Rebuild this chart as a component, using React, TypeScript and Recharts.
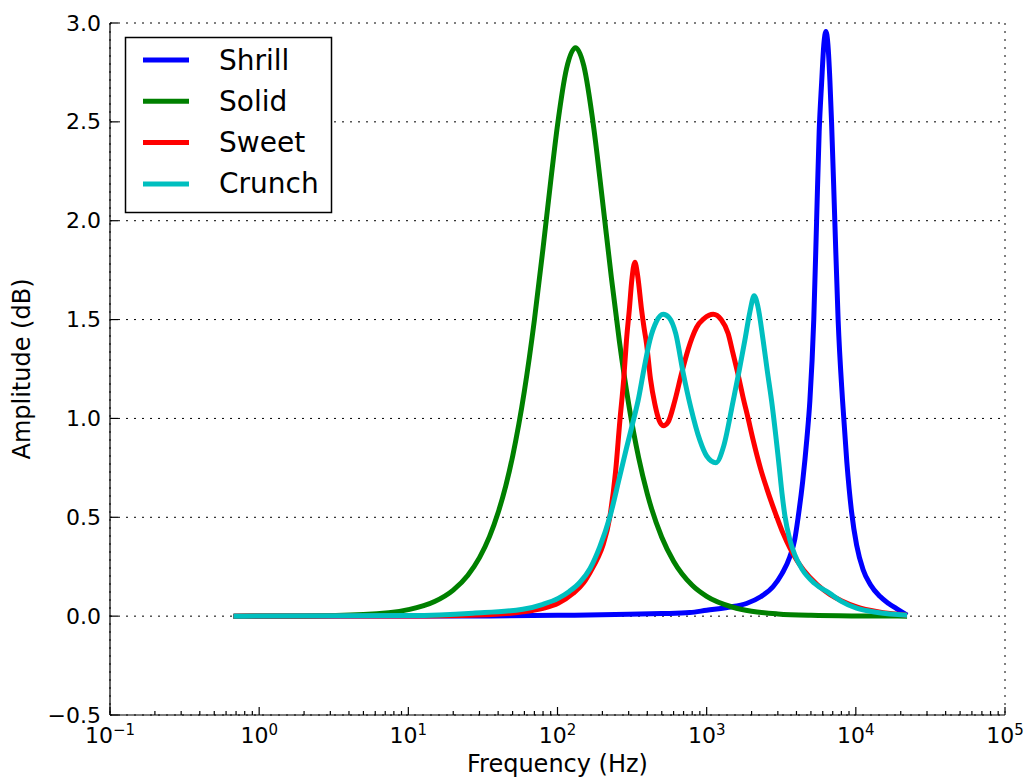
import { LineChart, Line, XAxis, YAxis, CartesianGrid } from 'recharts'

/* ─── values (frequency in Hz, amplitude in dB) ─── */
const shrillFreq = [0.673, 30, 100, 300, 500, 771, 1000, 1400, 1849, 2300, 2792, 3200, 3611, 3900, 4104, 4400, 4700, 4920, 5224, 5458, 5678, 5900, 6100, 6300, 6500, 6700, 6874, 7228, 7607, 8147, 8700, 9354, 10120, 11190, 12500, 14490, 16500, 18740, 22050]
const shrillAmp = [0, 0.001, 0.004, 0.009, 0.013, 0.018, 0.03, 0.045, 0.064, 0.098, 0.15, 0.215, 0.3, 0.39, 0.5, 0.68, 0.9, 1.09, 1.5, 2.0, 2.45, 2.7, 2.89, 2.957, 2.89, 2.71, 2.5, 2.0, 1.5, 1.09, 0.78, 0.53, 0.36, 0.235, 0.16, 0.1, 0.065, 0.038, 0.005]

const solidFreq = [0.673, 2, 5, 10, 15, 20, 25, 30, 35, 40, 45, 50, 60, 70, 80, 90, 100, 115, 132, 150, 175, 200, 230, 260, 300, 350, 400, 500, 600, 800, 1000, 1500, 2000, 3000, 5000, 10000, 22050]
const solidAmp = [0, 0.001, 0.008, 0.033, 0.074, 0.132, 0.206, 0.296, 0.402, 0.524, 0.659, 0.808, 1.139, 1.498, 1.861, 2.198, 2.483, 2.77, 2.875, 2.784, 2.47, 2.105, 1.709, 1.39, 1.073, 0.801, 0.618, 0.399, 0.278, 0.156, 0.1, 0.045, 0.025, 0.011, 0.004, 0.001, 0]

const sweetFreq = [0.673, 10, 30, 58.6, 80, 101, 127, 150, 165, 185, 202, 224, 245, 262, 278, 290, 303, 315, 330, 345, 366, 380, 395, 420, 450, 480, 512, 550, 612, 680, 752, 800, 855, 960, 1107, 1250, 1393, 1500, 1626, 1750, 1897, 2050, 2300, 2518, 2750, 2942, 3250, 3611, 4000, 4446, 5500, 6694, 8000, 10120, 14000, 22050]
const sweetAmp = [0, 0.001, 0.006, 0.022, 0.04, 0.065, 0.115, 0.17, 0.22, 0.29, 0.36, 0.5, 0.73, 0.99, 1.2, 1.395, 1.55, 1.7, 1.79, 1.72, 1.55, 1.46, 1.38, 1.2, 1.07, 0.99, 0.963, 0.98, 1.09, 1.23, 1.35, 1.41, 1.46, 1.505, 1.527, 1.5, 1.43, 1.33, 1.22, 1.11, 1.0, 0.89, 0.745, 0.65, 0.565, 0.505, 0.42, 0.345, 0.285, 0.235, 0.16, 0.11, 0.078, 0.047, 0.022, 0.005]

const crunchFreq = [0.673, 10.3, 27.1, 58.6, 80, 101, 120, 141, 165, 192, 224, 260, 290, 325, 347, 380, 416, 460, 511, 560, 620, 696, 780, 900, 1000, 1153, 1300, 1506, 1650, 1803, 1950, 2081, 2200, 2391, 2550, 2723, 3060, 3200, 3342, 3600, 3900, 4345, 5300, 6694, 8000, 10120, 14000, 22050]
const crunchAmp = [0, 0.003, 0.015, 0.035, 0.06, 0.09, 0.125, 0.17, 0.24, 0.35, 0.5, 0.7, 0.85, 1.0, 1.09, 1.25, 1.395, 1.49, 1.527, 1.51, 1.43, 1.23, 1.06, 0.89, 0.81, 0.776, 0.86, 1.09, 1.24, 1.395, 1.54, 1.62, 1.57, 1.395, 1.24, 1.09, 0.76, 0.62, 0.51, 0.39, 0.31, 0.24, 0.165, 0.115, 0.075, 0.04, 0.018, 0.005]

const majorTicks = [0.1, 1, 10, 100, 1000, 10000, 100000]
const minorTicks = [
  0.2, 0.3, 0.4, 0.5, 0.6, 0.7, 0.8, 0.9,
  2, 3, 4, 5, 6, 7, 8, 9,
  20, 30, 40, 50, 60, 70, 80, 90,
  200, 300, 400, 500, 600, 700, 800, 900,
  2000, 3000, 4000, 5000, 6000, 7000, 8000, 9000,
  20000, 30000, 40000, 50000, 60000, 70000, 80000, 90000,
]
const allXTicks = [...majorTicks, ...minorTicks].sort((a, b) => a - b)
const yTicks = [-0.5, 0, 0.5, 1, 1.5, 2, 2.5, 3]

const zip = (f: number[], a: number[]) => f.map((freq, i) => ({ freq, amp: a[i] }))

const series = [
  { name: 'Shrill', color: '#0000ff', data: zip(shrillFreq, shrillAmp) },
  { name: 'Solid', color: '#008000', data: zip(solidFreq, solidAmp) },
  { name: 'Sweet', color: '#ff0000', data: zip(sweetFreq, sweetAmp) },
  { name: 'Crunch', color: '#00bfbf', data: zip(crunchFreq, crunchAmp) },
]

const FONT = '"DejaVu Sans", sans-serif'

const isMajor = (v: number) => {
  const l = Math.log10(v)
  return Math.abs(l - Math.round(l)) < 1e-6
}

/* ─── tick renderers (ticks point inward, matplotlib classic) ─── */
function BottomTick(props: any) {
  const { x, y, payload } = props
  const major = isMajor(payload.value)
  const exp = Math.round(Math.log10(payload.value))
  const expText = exp < 0 ? '\u2212' + Math.abs(exp) : String(exp)
  return (
    <g>
      <line x1={x} x2={x} y1={y} y2={y - (major ? 8 : 4)} stroke="#000" strokeWidth={1.2} />
      {major && (
        <text x={x} y={y + 28} textAnchor="middle" fontSize={22} fill="#000" fontFamily={FONT}>
          10<tspan dy={-8} fontSize={15}>{expText}</tspan>
        </text>
      )}
    </g>
  )
}

function TopTick(props: any) {
  const { x, y, payload } = props
  const major = isMajor(payload.value)
  return <line x1={x} x2={x} y1={y} y2={y + (major ? 8 : 4)} stroke="#000" strokeWidth={1.2} />
}

function LeftTick(props: any) {
  const { x, y, payload } = props
  const v = payload.value as number
  const txt = (v < 0 ? '\u2212' : '') + Math.abs(v).toFixed(1)
  return (
    <g>
      <line x1={x} x2={x + 8} y1={y} y2={y} stroke="#000" strokeWidth={1.2} />
      <text x={x - 9} y={y} textAnchor="end" dominantBaseline="central" fontSize={22} fill="#000" fontFamily={FONT}>
        {txt}
      </text>
    </g>
  )
}

function RightTick(props: any) {
  const { x, y } = props
  return <line x1={x} x2={x - 8} y1={y} y2={y} stroke="#000" strokeWidth={1.2} />
}

/* ─── legend box, top-left inside the axes ─── */
function LegendBox() {
  return (
    <svg width={1025} height={781} style={{ position: 'absolute', left: 0, top: 0, pointerEvents: 'none' }}>
      <rect x={125.5} y={37.5} width={206} height={175} fill="#fff" stroke="#000" strokeWidth={1.5} />
      {series.map((s, i) => {
        const cy = 60 + i * 41.3
        return (
          <g key={s.name}>
            <line x1={143} x2={189} y1={cy} y2={cy} stroke={s.color} strokeWidth={5} />
            <text x={219} y={cy} dominantBaseline="central" fontSize={28} fill="#000" fontFamily={FONT}>
              {s.name}
            </text>
          </g>
        )
      })}
    </svg>
  )
}

export default function App() {
  return (
    <div style={{ position: 'absolute', left: 0, top: 0, width: 1025, height: 781, background: '#fff' }}>
      <LineChart
        width={1025}
        height={781}
        margin={{ top: 23, right: 20, bottom: 0, left: 10 }}
        style={{ fontFamily: FONT }}
      >
        <CartesianGrid xAxisId="grid" yAxisId="y" stroke="#000" strokeWidth={1} strokeDasharray="2 6" />
        <XAxis
          xAxisId="grid" hide orientation="top" height={0} type="number" scale="log"
          domain={[0.1, 100000]} allowDataOverflow ticks={majorTicks} interval={0}
        />
        <XAxis
          xAxisId="top" orientation="top" type="number" scale="log" domain={[0.1, 100000]} allowDataOverflow
          ticks={allXTicks} interval={0} tickSize={0} tickMargin={0} tick={TopTick}
          height={0} axisLine={{ stroke: '#000', strokeWidth: 1.2 }}
        />
        <XAxis
          xAxisId="x" dataKey="freq" type="number" scale="log" domain={[0.1, 100000]} allowDataOverflow
          ticks={allXTicks} interval={0} tickSize={0} tickMargin={0} tick={BottomTick}
          height={66} axisLine={{ stroke: '#000', strokeWidth: 1.2 }}
          label={{
            content: (p: any) => (
              <text
                x={p.viewBox.x + p.viewBox.width / 2} y={p.viewBox.y + 57}
                textAnchor="middle" fontSize={24} fill="#000" fontFamily={FONT}
              >
                Frequency (Hz)
              </text>
            ),
          }}
        />
        <YAxis
          yAxisId="y" type="number" domain={[-0.5, 3]} allowDataOverflow
          ticks={yTicks} interval={0} tickSize={0} tickMargin={0} tick={LeftTick}
          width={100} axisLine={{ stroke: '#000', strokeWidth: 1.2 }}
          label={{
            content: (p: any) => {
              const cx = p.viewBox.x + 12
              const cy = p.viewBox.y + p.viewBox.height / 2
              return (
                <text
                  transform={`translate(${cx},${cy}) rotate(-90)`}
                  textAnchor="middle" dominantBaseline="central" fontSize={24} fill="#000" fontFamily={FONT}
                >
                  Amplitude (dB)
                </text>
              )
            },
          }}
        />
        <YAxis
          yAxisId="right" orientation="right" type="number" domain={[-0.5, 3]} allowDataOverflow
          ticks={yTicks} interval={0} tickSize={0} tickMargin={0} tick={RightTick}
          width={0} axisLine={{ stroke: '#000', strokeWidth: 1.2 }}
        />
        {series.map((s) => (
          <Line
            key={s.name} xAxisId="x" yAxisId="y" data={s.data} dataKey="amp" name={s.name}
            type="monotone" stroke={s.color} strokeWidth={5} dot={false} activeDot={false}
            isAnimationActive={false}
          />
        ))}
      </LineChart>
      <LegendBox />
    </div>
  )
}
